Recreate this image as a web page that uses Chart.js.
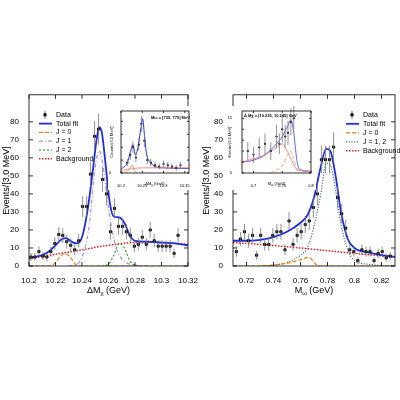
<!DOCTYPE html>
<html>
<head>
<meta charset="utf-8">
<script src="https://cdn.jsdelivr.net/npm/chart.js@4/dist/chart.umd.min.js"></script>
<style>
  body { margin: 0; background: #fff; width: 400px; height: 400px; position: relative; overflow: hidden; }
  canvas { position: absolute; }
  #left { left: 0; top: 88px; }
  #right { left: 200px; top: 88px; }
  #insetL { left: 108px; top: 106px; background: #fff; }
  #insetR { left: 226px; top: 106px; background: #fff; }
</style>
</head>
<body>
<canvas id="left" width="200" height="212"></canvas>
<canvas id="right" width="200" height="212"></canvas>
<canvas id="insetL" width="86" height="84"></canvas>
<canvas id="insetR" width="90" height="84"></canvas>
<script>
// ---- left panel: Delta M_chi ----
const dmBinStart = 10.2015;
const dmCounts = [5, 5, 8, 5.5, 5, 8, 12.5, 17.5, 17, 13.5, 11.5, 9, 14, 33, 33, 51, 72, 76, 48, 40,
  19, 32, 22, 22, 19, 17, 11, 12, 16, 12, 20, 14, 11, 11, 11, 11, 7, 17];
const dmTicks = [10.2, 10.22, 10.24, 10.26, 10.28, 10.3, 10.32];
const dmTotal = [[10.2, 4.5], [10.21, 6], [10.215, 8], [10.22, 11.5], [10.225, 15], [10.228, 15.5], [10.232, 13.5],
  [10.236, 12.5], [10.24, 16], [10.244, 30], [10.248, 52], [10.251, 70], [10.253, 77], [10.255, 74], [10.258, 55],
  [10.261, 35], [10.264, 27.5], [10.268, 27], [10.272, 24], [10.276, 17], [10.28, 14], [10.29, 13.5], [10.3, 13],
  [10.31, 12.5], [10.32, 11.5]];
const dmJ0 = [[10.2, 0], [10.216, 0], [10.22, 2], [10.224, 5.5], [10.227, 7], [10.231, 5], [10.235, 1], [10.238, 0], [10.32, 0]];
const dmJ1 = [[10.23, 0], [10.235, 0.5], [10.24, 5], [10.245, 20], [10.25, 55], [10.253, 64], [10.256, 55], [10.26, 32],
  [10.265, 12], [10.27, 4], [10.28, 0.5], [10.29, 0]];
const dmJ2 = [[10.255, 0], [10.26, 1], [10.264, 6], [10.268, 12.5], [10.272, 10], [10.276, 3], [10.28, 0.5], [10.285, 0]];
const dmBkg = [[10.2, 4], [10.22, 6.5], [10.24, 9], [10.26, 11.5], [10.28, 13], [10.3, 13], [10.32, 12]];
const mainYLabels = [0, 10, 20, 30, 40, 50, 60, 70, 80];

// ---- right panel: M_omega ----
const mwBinStart = 0.7125;
const mwCounts = [8, 15, 19, 14, 17, 6, 17, 12, 12, 17, 19, 19, 9, 25, 12, 17, 19, 23, 25, 32.5,
  40, 59, 59, 59, 66, 38, 29, 21, 9, 8, 3, 9, 8, 8, 3, 7, 8, 4.5, 5.5];
const mwTicks = [0.72, 0.74, 0.76, 0.78, 0.8, 0.82];
const mwTotal = [[0.71, 14], [0.72, 14], [0.73, 14.5], [0.74, 16], [0.75, 19], [0.76, 24], [0.765, 28], [0.77, 38],
  [0.775, 55], [0.779, 65], [0.782, 64], [0.786, 50], [0.79, 30], [0.795, 15], [0.8, 10], [0.81, 7.5], [0.82, 6], [0.83, 5]];
const mwJ12 = [[0.73, 0], [0.74, 0.5], [0.75, 2], [0.76, 6], [0.765, 10], [0.77, 22], [0.775, 40], [0.779, 57],
  [0.782, 56], [0.786, 42], [0.79, 23], [0.795, 9], [0.8, 3], [0.81, 1], [0.82, 0.3], [0.83, 0]];
const mwJ0 = [[0.71, 0], [0.73, 0], [0.74, 0.5], [0.75, 1.5], [0.76, 3.5], [0.766, 4.8], [0.769, 3], [0.772, 0.5], [0.775, 0], [0.83, 0]];
const mwBkg = [[0.71, 13], [0.73, 12], [0.76, 10], [0.78, 8.5], [0.8, 7], [0.83, 5]];

// ---- insets ----
const inLTicks = [10.2, 10.25, 10.3, 10.35];
const inLYLabels = [0, 45];
const inLCounts = [[10.215, 8], [10.222, 14], [10.228, 20], [10.235, 12], [10.242, 22], [10.248, 38], [10.255, 25],
  [10.262, 10], [10.27, 8], [10.28, 6], [10.29, 5], [10.3, 7], [10.31, 6], [10.32, 5], [10.33, 4], [10.34, 6]];
const inLTotal = [[10.2, 3], [10.215, 8], [10.222, 16], [10.228, 22], [10.234, 14], [10.24, 20], [10.247, 35], [10.251, 42],
  [10.255, 30], [10.26, 15], [10.27, 8], [10.28, 5], [10.3, 4], [10.36, 3.5]];
const inLBkg = [[10.2, 2], [10.25, 4], [10.36, 4]];
const inLJ0 = [[10.21, 0], [10.22, 3], [10.226, 6], [10.232, 2], [10.238, 0]];
const inRTicks = [0.7, 0.75, 0.8];
const inRYLabels = [0, 15];
const inRCounts = [[0.69, 6], [0.7, 5], [0.71, 7], [0.72, 8], [0.73, 6], [0.74, 10], [0.745, 8], [0.75, 12],
  [0.755, 10], [0.76, 11], [0.765, 14], [0.77, 15]];
const inRTotal = [[0.68, 3], [0.7, 3.5], [0.72, 5], [0.74, 8], [0.75, 10], [0.76, 13], [0.765, 14.5], [0.77, 11],
  [0.775, 4], [0.78, 1], [0.8, 0.5]];
const inRBkg = [[0.68, 3], [0.72, 5], [0.74, 7], [0.75, 8], [0.755, 7], [0.765, 4], [0.775, 1], [0.8, 0.3]];
const inRJ0 = [[0.73, 0], [0.75, 2], [0.765, 6], [0.77, 4], [0.775, 1], [0.78, 0]];

const FONT = "'Liberation Sans', Arial, sans-serif";

const pts = arr => arr.map(p => ({ x: p[0], y: p[1] }));
const binned = (start, counts) => counts.map((c, i) => ({ x: start + 0.003 * i, y: c }));

function curve(label, data, color, dash, width) {
  return { type: 'line', label, data: pts(data), borderColor: color, borderDash: dash, borderWidth: width || 1.2,
    pointRadius: 0, tension: 0.4, cubicInterpolationMode: 'monotone', fill: false };
}
function dataSet(data, r) {
  return { type: 'scatter', label: 'Data', data, backgroundColor: '#000', borderColor: '#000',
    pointRadius: r, pointStyle: 'rect', errorBars: true, order: -1 };
}

// error bars (Poisson sqrt(n)), frame with inward ticks, subscript titles, legend
const hepPlugin = {
  id: 'hep',
  afterDatasetsDraw(chart) {
    const { ctx, scales: { x, y } } = chart;
    chart.data.datasets.forEach(ds => {
      if (!ds.errorBars) return;
      ctx.save();
      ctx.strokeStyle = '#777';
      ctx.lineWidth = 0.8;
      ds.data.forEach(p => {
        const e = Math.sqrt(p.y);
        const px = x.getPixelForValue(p.x);
        ctx.beginPath();
        ctx.moveTo(px, y.getPixelForValue(Math.max(0, p.y - e)));
        ctx.lineTo(px, y.getPixelForValue(p.y + e));
        ctx.stroke();
      });
      ctx.restore();
    });
  },
  afterDraw(chart) {
    const { ctx, chartArea: a, scales: { x, y } } = chart;
    const o = chart.options.plugins.hep || {};
    const t = o.tick || 4;
    ctx.save();
    ctx.strokeStyle = '#000';
    ctx.lineWidth = 0.8;
    ctx.strokeRect(a.left, a.top, a.right - a.left, a.bottom - a.top);
    ctx.beginPath();
    x.ticks.forEach(tk => {
      const px = x.getPixelForValue(tk.value);
      ctx.moveTo(px, a.bottom); ctx.lineTo(px, a.bottom - t);
      ctx.moveTo(px, a.top); ctx.lineTo(px, a.top + t);
    });
    y.ticks.forEach(tk => {
      const py = y.getPixelForValue(tk.value);
      ctx.moveTo(a.left, py); ctx.lineTo(a.left + t, py);
      ctx.moveTo(a.right, py); ctx.lineTo(a.right - t, py);
    });
    ctx.stroke();
    if (o.xTitle) {
      const [main, sub, rest] = o.xTitle;
      ctx.fillStyle = '#000';
      ctx.textBaseline = 'alphabetic';
      const f1 = `${o.titleSize}px ${FONT}`, f2 = `${Math.round(o.titleSize * 0.65)}px ${FONT}`;
      ctx.font = f1; const w1 = ctx.measureText(main).width, w3 = ctx.measureText(rest).width;
      ctx.font = f2; const w2 = ctx.measureText(sub).width;
      let sx = (a.left + a.right) / 2 - (w1 + w2 + w3) / 2;
      const by = a.bottom + o.titleOffset;
      ctx.font = f1; ctx.fillText(main, sx, by); sx += w1;
      ctx.font = f2; ctx.fillText(sub, sx, by + o.titleSize * 0.25); sx += w2;
      ctx.font = f1; ctx.fillText(rest, sx, by);
    }
    if (o.legend) {
      const L = o.legend;
      ctx.font = `${L.size}px ${FONT}`;
      ctx.textBaseline = 'middle';
      L.items.forEach((it, k) => {
        const ds = chart.data.datasets[it];
        const yy = a.top + L.y + k * L.gap;
        const x0 = a.left + L.x;
        if (ds.errorBars) {
          ctx.strokeStyle = '#555'; ctx.lineWidth = 0.8; ctx.setLineDash([]);
          ctx.beginPath(); ctx.moveTo(x0 + 6, yy - 4); ctx.lineTo(x0 + 6, yy + 4); ctx.stroke();
          ctx.fillStyle = '#000'; ctx.fillRect(x0 + 4.5, yy - 1.5, 3, 3);
        } else {
          ctx.strokeStyle = ds.borderColor; ctx.lineWidth = ds.borderWidth; ctx.setLineDash(ds.borderDash || []);
          ctx.beginPath(); ctx.moveTo(x0, yy); ctx.lineTo(x0 + 13, yy); ctx.stroke();
        }
        ctx.setLineDash([]);
        ctx.fillStyle = '#000';
        ctx.fillText(ds.label, x0 + 17, yy);
      });
    }
    if (o.note) {
      ctx.font = `bold ${o.note.size}px ${FONT}`;
      ctx.fillStyle = '#000';
      ctx.textBaseline = 'top';
      ctx.fillText(o.note.text, a.left + o.note.x, a.top + o.note.y);
    }
    ctx.restore();
  }
};

function makeChart(id, datasets, xr, xticks, yr, ystep, ylabels, lay, extra) {
  return new Chart(document.getElementById(id), {
    data: { datasets },
    plugins: [hepPlugin],
    options: {
      responsive: false,
      animation: false,
      layout: { padding: lay.pad },
      plugins: { legend: { display: false }, tooltip: { enabled: false }, hep: extra },
      scales: {
        x: {
          type: 'linear', min: xr[0], max: xr[1],
          afterBuildTicks: s => { s.ticks = xticks.map(v => ({ value: v })); },
          afterFit: s => { s.height = lay.xh; },
          grid: { display: false },
          border: { display: false },
          ticks: { color: '#000', font: { family: FONT, size: lay.tick }, padding: 2, maxRotation: 0,
            callback: v => String(+v.toFixed(3)) }
        },
        y: {
          min: yr[0], max: yr[1],
          afterBuildTicks: s => { s.ticks = s.ticks.filter(tk => tk.value < yr[1]); },
          afterFit: s => { s.width = lay.yw; },
          grid: { display: false },
          border: { display: false },
          ticks: { stepSize: ystep, color: '#000', font: { family: FONT, size: lay.tick }, padding: 2,
            callback: v => ylabels.includes(v) ? v : '' },
          title: { display: !!lay.ytitle, text: lay.ytitle, color: '#000', font: { family: FONT, size: lay.ytSize }, padding: 1 }
        }
      }
    }
  });
}

makeChart('left', [
  dataSet(binned(dmBinStart, dmCounts), 1.5),
  curve('Total fit', dmTotal, '#1f2de0', [], 1.8),
  curve('J = 0', dmJ0, '#f08020', [4, 2]),
  curve('J = 1', dmJ1, '#b090d8', [4, 2, 1, 2]),
  curve('J = 2', dmJ2, '#30a030', [2, 2]),
  curve('Background', dmBkg, '#e02020', [1.5, 1.5], 1.5)
], [10.2, 10.32], dmTicks, [0, 95], 10, mainYLabels,
  { pad: { top: 5, right: 4, left: 0, bottom: 0 }, xh: 34, yw: 29, tick: 8, ytitle: 'Events/[3.0 MeV]', ytSize: 9 },
  { xTitle: ['ΔM', 'χ', ' (GeV)'], titleSize: 9, titleOffset: 27,
    legend: { x: 10, y: 20, gap: 8.8, size: 7, items: [0, 1, 2, 3, 4, 5] } });

makeChart('right', [
  dataSet(binned(mwBinStart, mwCounts), 1.5),
  curve('Total fit', mwTotal, '#1f2de0', [], 1.8),
  curve('J = 0', mwJ0, '#f08020', [4, 2]),
  curve('J = 1, 2', mwJ12, '#507070', [1.2, 1.5]),
  curve('Background', mwBkg, '#e02020', [1.5, 1.5], 1.5)
], [0.71, 0.83], mwTicks, [0, 95], 10, mainYLabels,
  { pad: { top: 5, right: 0, left: 0, bottom: 0 }, xh: 34, yw: 33, tick: 8, ytitle: 'Events/[3.0 MeV]', ytSize: 9 },
  { xTitle: ['M', 'ω', ' (GeV)'], titleSize: 9, titleOffset: 27,
    legend: { x: 113, y: 20, gap: 9, size: 7, items: [0, 1, 2, 3, 4] } });

makeChart('insetL', [
  dataSet(pts(inLCounts), 0.8),
  curve('Bkg', inLBkg, '#f09090', [], 1),
  curve('J0', inLJ0, '#f08020', [], 0.8),
  curve('Total', inLTotal, '#1f2de0', [], 1)
], [10.2, 10.36], inLTicks, [0, 48], 5, inLYLabels,
  { pad: { top: 2, right: 3, left: 0, bottom: 0 }, xh: 17, yw: 13, tick: 4, ytitle: 'Counts/(3.0 MeV)', ytSize: 4 },
  { tick: 2, xTitle: ['ΔM', 'χ', ' (GeV)'], titleSize: 4, titleOffset: 12,
    note: { text: 'Mω = [735, 775] MeV', x: 30, y: 5, size: 4 } });

makeChart('insetR', [
  dataSet(pts(inRCounts), 0.8),
  curve('Bkg', inRBkg, '#f07070', [], 0.8),
  curve('J0', inRJ0, '#f0a050', [4, 2], 0.8),
  curve('Total', inRTotal, '#6060f0', [], 1)
], [0.68, 0.8], inRTicks, [0, 17], 1, inRYLabels,
  { pad: { top: 2, right: 3, left: 0, bottom: 0 }, xh: 17, yw: 16, tick: 4, ytitle: 'Events/(3.0 MeV)', ytSize: 4 },
  { tick: 2, xTitle: ['M', 'ω', ' (GeV)'], titleSize: 4, titleOffset: 12,
    note: { text: 'Δ Mχ = [10.235, 10.245] GeV', x: 2, y: 3, size: 4 } });
</script>
</body>
</html>
